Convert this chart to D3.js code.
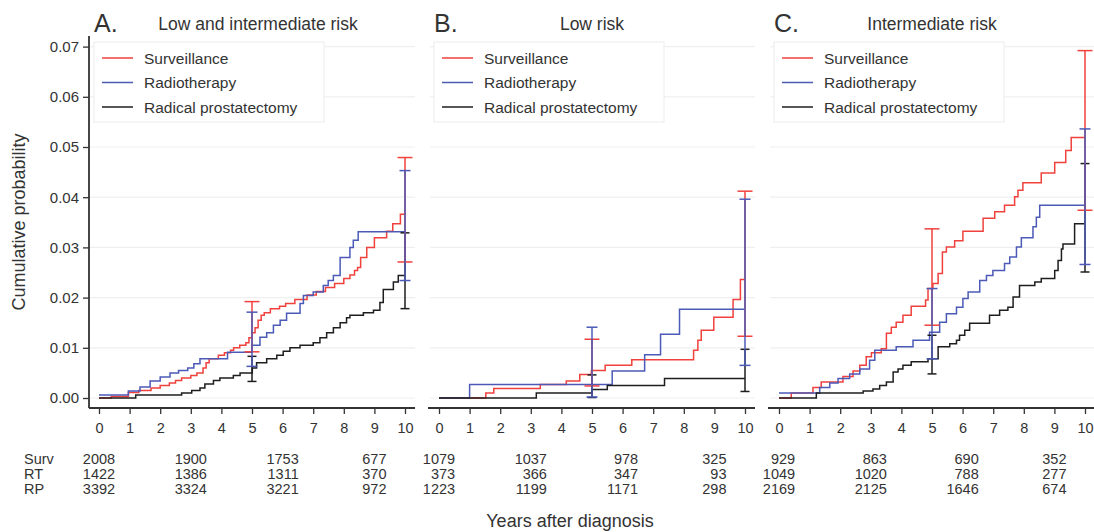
<!DOCTYPE html>
<html><head><meta charset="utf-8">
<script src="https://cdn.jsdelivr.net/npm/d3@7"></script>
<style>
body{margin:0;background:#fff}
text{font-family:"Liberation Sans",Arial,Helvetica,sans-serif;fill:#333}
</style>
</head><body><svg id="chart" width="1094" height="532"></svg>
<script>
// ---------------- data ----------------
const panelLetters = ["A.", "B.", "C."];
const panelTitles = ["Low and intermediate risk", "Low risk", "Intermediate risk"];
const seriesNames = ["Surveillance", "Radiotherapy", "Radical prostatectomy"];
const rowLabels = ["Surv", "RT", "RP"];
const xTicks = [0,1,2,3,4,5,6,7,8,9,10];
const yTicks = [0,0.01,0.02,0.03,0.04,0.05,0.06,0.07];
const riskTimes = [0,3,6,9];

// step curves [years, cumulative probability]
const survA = [[0,0],[0.4,0.0003],[0.96,0.0011],[1.3,0.0015],[1.7,0.002],[2.0,0.0025],[2.3,0.003],[2.5,0.0035],[2.7,0.004],[3.0,0.0045],[3.2,0.005],[3.4,0.006],[3.5,0.007],[3.6,0.0078],[3.9,0.0085],[4.1,0.009],[4.3,0.0095],[4.4,0.01],[4.6,0.0105],[4.8,0.011],[4.9,0.012],[5.0,0.013],[5.1,0.014],[5.2,0.0155],[5.3,0.0165],[5.4,0.017],[5.6,0.0178],[5.9,0.0183],[6.1,0.0188],[6.4,0.0196],[6.8,0.0205],[7.1,0.0212],[7.4,0.022],[7.7,0.0228],[8.0,0.0238],[8.2,0.0245],[8.35,0.0254],[8.45,0.026],[8.55,0.028],[8.75,0.03],[9.0,0.0319],[9.4,0.0332],[9.6,0.0347],[9.85,0.0366],[10,0.0366]];
const rtA = [[0,0.0006],[0.96,0.0014],[1.34,0.0022],[1.67,0.0034],[2.0,0.0042],[2.32,0.005],[2.6,0.0055],[2.9,0.006],[3.1,0.0068],[3.3,0.0078],[4.2,0.0091],[5.0,0.0105],[5.26,0.0121],[5.48,0.013],[5.7,0.0145],[5.92,0.0155],[6.13,0.0169],[6.57,0.0188],[6.68,0.0204],[7.0,0.0211],[7.33,0.0224],[7.49,0.0234],[7.66,0.0244],[7.88,0.028],[8.2,0.030],[8.31,0.0314],[8.47,0.0331],[10,0.0331]];
const rpA = [[0,0],[1.2,0.0006],[2.7,0.001],[3.03,0.0015],[3.3,0.002],[3.46,0.0028],[3.74,0.0035],[3.95,0.004],[4.39,0.0045],[4.61,0.005],[5.01,0.006],[5.15,0.007],[5.48,0.0078],[5.81,0.0085],[6.02,0.0093],[6.24,0.01],[6.57,0.0105],[7.0,0.011],[7.22,0.012],[7.44,0.013],[7.66,0.014],[7.88,0.015],[8.09,0.016],[8.2,0.0165],[8.64,0.017],[8.97,0.0175],[9.18,0.019],[9.29,0.0216],[9.62,0.0231],[9.78,0.0244],[10,0.0244]];

const survB = [[0,0],[1.53,0.001],[1.79,0.0019],[3.31,0.0027],[4.16,0.0034],[4.6,0.0047],[4.98,0.0055],[5.43,0.0065],[6.3,0.0076],[8.32,0.0095],[8.46,0.0115],[8.57,0.0135],[8.98,0.0161],[9.61,0.0196],[9.85,0.0236],[10,0.0236]];
const rtB = [[0,0],[1.0,0.0027],[5.66,0.0054],[6.72,0.0086],[7.24,0.0127],[7.86,0.0177],[10,0.0177]];
const rpB = [[0,0],[3.18,0.001],[5.0,0.0017],[5.5,0.0025],[7.37,0.0039],[10,0.0039]];

const survC = [[0,0],[0.4,0.001],[1.11,0.0021],[1.38,0.0032],[2.09,0.0043],[2.42,0.0054],[2.64,0.0065],[2.85,0.0082],[3.02,0.009],[3.34,0.0098],[3.51,0.0129],[3.67,0.0141],[3.83,0.0151],[4.05,0.0165],[4.32,0.0183],[4.79,0.0195],[4.87,0.0218],[5.03,0.0228],[5.2,0.0248],[5.34,0.0291],[5.47,0.0301],[5.74,0.0313],[6.01,0.0332],[6.67,0.0358],[7.05,0.0371],[7.37,0.0384],[7.7,0.0401],[7.81,0.0414],[7.97,0.0429],[8.57,0.0448],[9.01,0.0469],[9.37,0.0493],[9.55,0.0519],[10,0.0519]];
const rtC = [[0,0.001],[1.33,0.0021],[1.66,0.003],[1.93,0.0039],[2.31,0.0048],[2.64,0.0058],[2.96,0.0075],[3.13,0.0095],[3.83,0.0102],[4.38,0.0115],[4.92,0.0131],[5.25,0.0151],[5.47,0.0168],[5.8,0.0181],[6.01,0.0198],[6.18,0.0211],[6.56,0.0234],[6.78,0.0244],[6.99,0.0254],[7.37,0.0268],[7.54,0.0281],[7.76,0.0301],[7.92,0.0319],[8.3,0.0341],[8.41,0.036],[8.52,0.0384],[10,0.0384]];
const rpC = [[0,0],[1.22,0.001],[2.75,0.0014],[3.07,0.0018],[3.29,0.0025],[3.51,0.0032],[3.73,0.0052],[3.89,0.0058],[4.05,0.0065],[4.32,0.0072],[4.87,0.0078],[5.2,0.0102],[5.58,0.0108],[5.8,0.0115],[5.9,0.0125],[6.07,0.0135],[6.23,0.0149],[6.88,0.0165],[7.21,0.0175],[7.48,0.0181],[7.65,0.0201],[7.86,0.0224],[8.36,0.0231],[8.57,0.0238],[9.01,0.0254],[9.12,0.0274],[9.23,0.0297],[9.28,0.0307],[9.66,0.0347],[10,0.0347]];

// confidence intervals [years, lower, upper]
const ciSurvA = [[5,0.0092,0.0192],[10,0.0271,0.0479]];
const ciRtA   = [[5,0.0063,0.0171],[10,0.0234,0.0453]];
const ciRpA   = [[5,0.0033,0.0083],[10,0.0178,0.0329]];
const ciSurvB = [[5,0.0024,0.0117],[10,0.0123,0.0412]];
const ciRtB   = [[5,0.0002,0.0141],[10,0.0065,0.0396]];
const ciRpB   = [[5,0.0001,0.0046],[10,0.0013,0.0097]];
const ciSurvC = [[5,0.0145,0.0337],[10,0.0374,0.0692]];
const ciRtC   = [[5,0.0078,0.0218],[10,0.0266,0.0536]];
const ciRpC   = [[5,0.0048,0.0125],[10,0.0251,0.0467]];

// numbers at risk
const riskSurvA = [2008,1900,1753,677];
const riskRtA   = [1422,1386,1311,370];
const riskRpA   = [3392,3324,3221,972];
const riskSurvB = [1079,1037,978,325];
const riskRtB   = [373,366,347,93];
const riskRpB   = [1223,1199,1171,298];
const riskSurvC = [929,863,690,352];
const riskRtC   = [1049,1020,788,277];
const riskRpC   = [2169,2125,1646,674];

// ---------------- drawing ----------------
const colors = ["#f0413c", "#4b5ab6", "#1e1e1e"];
const capHalf = [7.5, 5.5, 4.5];
const panels = [
  {curves:[survA,rtA,rpA], cis:[ciSurvA,ciRtA,ciRpA], risk:[riskSurvA,riskRtA,riskRpA]},
  {curves:[survB,rtB,rpB], cis:[ciSurvB,ciRtB,ciRpB], risk:[riskSurvB,riskRtB,riskRpB]},
  {curves:[survC,rtC,rpC], cis:[ciSurvC,ciRtC,ciRpC], risk:[riskSurvC,riskRtC,riskRpC]}
];

const svg = d3.select("#chart");
const y = d3.scaleLinear().domain([0,0.07]).range([398, 46.6]);
const axisY = 408;
const rowY = [458.5, 473.5, 488.5];

panels.forEach((p, i) => {
  const x = d3.scaleLinear().domain([0,10]).range([99 + 340*i, 405 + 340*i]);
  const g = svg.append("g");
  const left = x(0) - 9, right = x(10) + 10;

  // grid
  g.selectAll("line.grid").data(yTicks).join("line")
    .attr("x1", left).attr("x2", right)
    .attr("y1", d => y(d)).attr("y2", d => y(d))
    .attr("stroke", "#efefef").attr("stroke-width", 1.2);

  // legend
  const lx = x(0) - 5, ly = 42;
  const lg = g.append("g");
  lg.append("rect").attr("x", lx).attr("y", ly).attr("width", 230).attr("height", 80)
    .attr("fill", "#fff").attr("stroke", "#ececec");
  seriesNames.forEach((n, k) => {
    const yy = ly + 16 + k*24.5;
    lg.append("line").attr("x1", lx+8).attr("x2", lx+39).attr("y1", yy).attr("y2", yy)
      .attr("stroke", colors[k]).attr("stroke-width", 1.5);
    lg.append("text").attr("x", lx+50).attr("y", yy+5.5).attr("font-size", 15.5).text(n);
  });

  // curves
  const line = d3.line().x(d => x(d[0])).y(d => y(d[1])).curve(d3.curveStepAfter);
  p.curves.forEach((c, k) => {
    g.append("path").attr("d", line(c)).attr("fill", "none")
      .attr("stroke", colors[k]).attr("stroke-width", 1.5);
  });

  // CIs: black, red, blue
  [2,0,1].forEach(k => {
    p.cis[k].forEach(ci => {
      const cx = x(ci[0]);
      g.append("line").attr("x1", cx).attr("x2", cx).attr("y1", y(ci[1])).attr("y2", y(ci[2]))
        .attr("stroke", colors[k]).attr("stroke-width", 1.5);
      [ci[1], ci[2]].forEach(v => {
        g.append("line").attr("x1", cx-capHalf[k]).attr("x2", cx+capHalf[k])
          .attr("y1", y(v)).attr("y2", y(v)).attr("stroke", colors[k]).attr("stroke-width", 1.5);
      });
    });
  });

  // x axis
  const xa = g.append("g").attr("transform", `translate(0,${axisY})`)
    .call(d3.axisBottom(x).tickValues(xTicks).tickSize(6).tickPadding(9).tickFormat(d3.format("d")));
  xa.select(".domain").remove();
  xa.selectAll(".tick line").attr("stroke", "#333").attr("stroke-width", 1.3);
  xa.selectAll(".tick text").attr("font-size", 14.5).attr("fill", "#333")
    .style("font-family", '"Liberation Sans",Arial,sans-serif');
  g.append("line").attr("x1", i === 0 ? x(0) - 10 : x(0) - 11).attr("x2", right)
    .attr("y1", axisY).attr("y2", axisY).attr("stroke", "#333").attr("stroke-width", 1.8);

  // y axis only first panel
  if (i === 0) {
    const ya = g.append("g").attr("transform", `translate(${x(0)-10},0)`)
      .call(d3.axisLeft(y).tickValues(yTicks).tickSize(6).tickPadding(4).tickFormat(d3.format(".2f")));
    ya.select(".domain").remove();
    ya.selectAll(".tick line").attr("stroke", "#333").attr("stroke-width", 1.3);
    ya.selectAll(".tick text").attr("font-size", 15).attr("fill", "#333")
      .style("font-family", '"Liberation Sans",Arial,sans-serif');
    g.append("line").attr("x1", x(0)-10).attr("x2", x(0)-10).attr("y1", 36).attr("y2", axisY)
      .attr("stroke", "#333").attr("stroke-width", 1.8);
  }

  // titles
  g.append("text").attr("x", x(0) - 5).attr("y", 32).attr("font-size", 25).text(panelLetters[i]);
  g.append("text").attr("x", (x(0)+x(10))/2 + (i===0?6:0)).attr("y", 30).attr("text-anchor", "middle")
    .attr("font-size", 17.5).text(panelTitles[i]);

  // risk table: columns centred on tick, entries right aligned
  riskTimes.forEach((t, c) => {
    const texts = p.risk.map((row, r) => g.append("text")
      .attr("y", rowY[r] + 5).attr("text-anchor", "end").attr("font-size", 14.5).text(row[c]));
    const w = d3.max(texts, tx => tx.node().getComputedTextLength());
    texts.forEach(tx => tx.attr("x", x(t) + w/2));
  });
});

// row labels
rowLabels.forEach((l, r) => {
  svg.append("text").attr("x", 24).attr("y", rowY[r] + 5).attr("font-size", 14.5).text(l);
});

// axis titles
svg.append("text").attr("transform", "translate(25,222) rotate(-90)").attr("text-anchor", "middle")
  .attr("font-size", 18).text("Cumulative probability");
svg.append("text").attr("x", 570).attr("y", 527).attr("text-anchor", "middle")
  .attr("font-size", 18).text("Years after diagnosis");
</script></body></html>
